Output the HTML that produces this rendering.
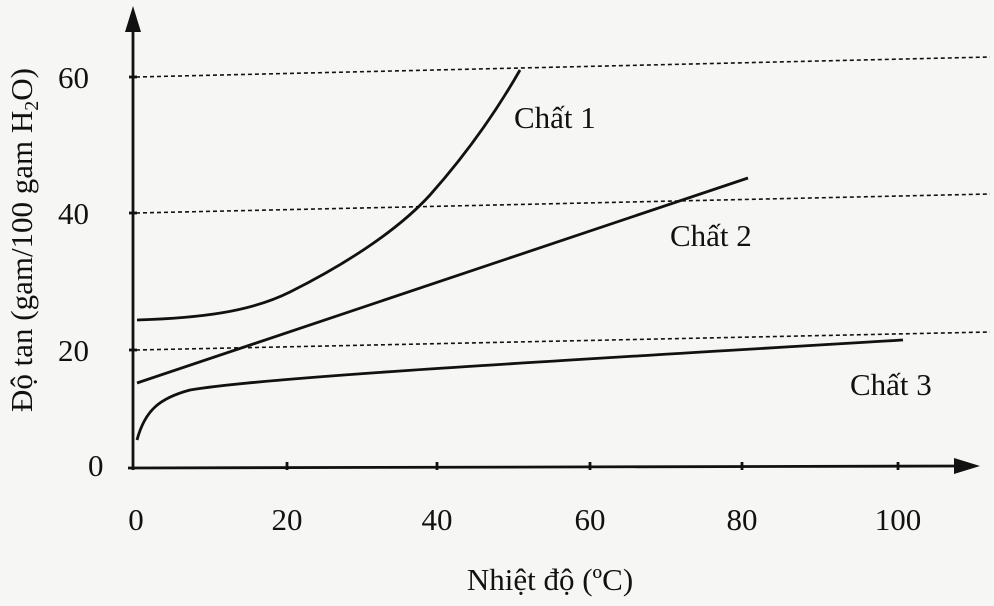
<!DOCTYPE html>
<html><head><meta charset="utf-8"><style>
html,body{margin:0;padding:0;background:#f6f6f4;}
svg{display:block;}
text{font-family:"Liberation Serif",serif;fill:#111;}
</style></head><body>
<svg width="994" height="606" viewBox="0 0 994 606">
<rect width="994" height="606" fill="#f6f6f4"/>
<g stroke="#111" stroke-width="1.6" stroke-dasharray="4,3" fill="none">
<line x1="136" y1="77" x2="990" y2="57"/>
<line x1="136" y1="213" x2="990" y2="194"/>
<line x1="136" y1="350" x2="990" y2="332"/>
</g>
<g stroke="#111" stroke-width="2.8" fill="none">
<line x1="133" y1="470" x2="133" y2="20"/>
<line x1="128" y1="468" x2="965" y2="466"/>
<path d="M137,320 C200,318 250,312 290,292 C350,262 400,228 430,195 C470,150 500,105 520,70"/>
<path d="M137,383 L748,178"/>
<path d="M137,440 C145,410 160,398 190,390 C260,378 500,364 903,340"/>
<line x1="287" y1="462" x2="287" y2="470"/>
<line x1="437" y1="462" x2="437" y2="470"/>
<line x1="590" y1="462" x2="590" y2="470"/>
<line x1="742" y1="462" x2="742" y2="470"/>
<line x1="898" y1="462" x2="898" y2="470"/>
<line x1="129" y1="77" x2="137" y2="77"/>
<line x1="129" y1="213" x2="137" y2="213"/>
<line x1="129" y1="350" x2="137" y2="350"/>
</g>
<polygon points="133,6 125,32 141,32" fill="#111"/>
<polygon points="980,466 954,458 954,474" fill="#111"/>
<g font-size="31">
<text x="58" y="88">60</text>
<text x="58" y="224">40</text>
<text x="58" y="361">20</text>
<text x="88" y="476">0</text>
<text x="136" y="530" text-anchor="middle">0</text>
<text x="287" y="530" text-anchor="middle">20</text>
<text x="437" y="530" text-anchor="middle">40</text>
<text x="590" y="530" text-anchor="middle">60</text>
<text x="742" y="530" text-anchor="middle">80</text>
<text x="898" y="530" text-anchor="middle">100</text>
<text x="514" y="128">Chất 1</text>
<text x="670" y="246">Chất 2</text>
<text x="850" y="395">Chất 3</text>
<text x="550" y="590" text-anchor="middle">Nhiệt độ  (ºC)</text>
<text transform="translate(32,240) rotate(-90)" text-anchor="middle">Độ tan  (gam/100 gam H<tspan font-size="20" dy="6">2</tspan><tspan dy="-6">O)</tspan></text>
</g>
</svg>
</body></html>
